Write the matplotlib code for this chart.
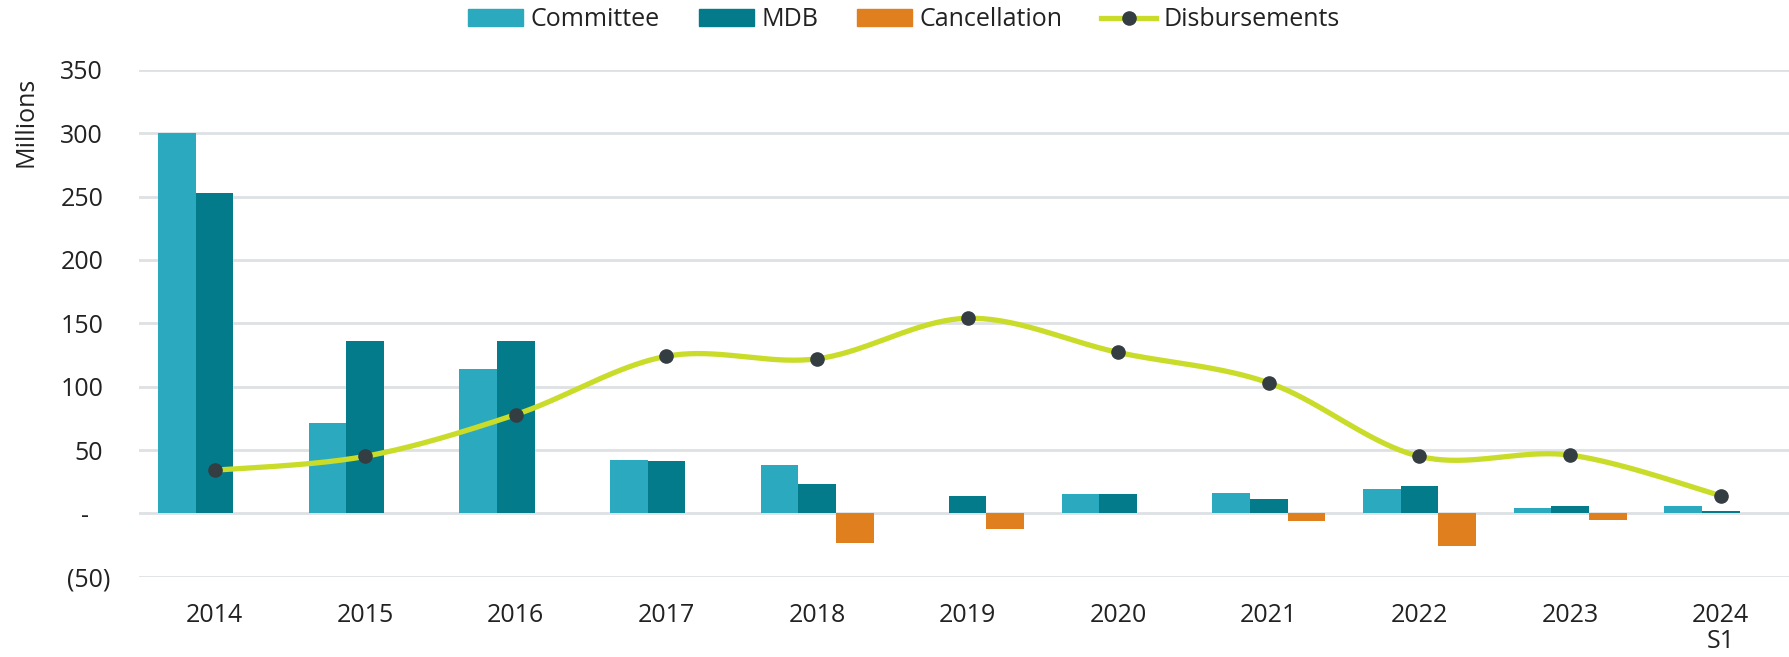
import numpy as np
import matplotlib
matplotlib.use("Agg")
import matplotlib.pyplot as plt
import matplotlib.transforms as mtransforms
from matplotlib.patches import Patch
from matplotlib.lines import Line2D

plt.rcParams['font.family'] = ['Open Sans', 'DejaVu Sans']

# data
years = ["2014", "2015", "2016", "2017", "2018", "2019", "2020", "2021", "2022", "2023", "2024\nS1"]
committee = [300, 71, 114, 42, 38, 0, 15, 16, 19, 4, 6]
mdb = [253, 136, 136, 41, 23, 14, 15, 11, 22, 6, 2]
cancellation = [0, 0, 0, 0, -23, -12, 0, -6, -26, -5, 0]
disbursements = [34, 45, 78, 124, 122, 154, 127, 103, 45, 46, 14]

ytick_vals = [-50, 0, 50, 100, 150, 200, 250, 300, 350]
ytick_labels = ["(50)", "-", "50", "100", "150", "200", "250", "300", "350"]

c_comm = "#2BA9BF"
c_mdb = "#037B8B"
c_canc = "#E07F1D"
c_line = "#C9DC2A"
c_mark = "#343E42"
c_grid = "#DDE1E4"
c_text = "#222222"


def smooth(xs, ys, n=40):
    # excel style smoothed line: bezier segments with catmull-rom handles
    xs = np.asarray(xs, float)
    ys = np.asarray(ys, float)
    px, py = [], []
    for i in range(len(xs) - 1):
        x0, y0 = xs[i], ys[i]
        x3, y3 = xs[i + 1], ys[i + 1]
        xa, ya = (xs[i - 1], ys[i - 1]) if i > 0 else (x0, y0)
        xb, yb = (xs[i + 2], ys[i + 2]) if i + 2 < len(xs) else (x3, y3)
        x1, y1 = x0 + (x3 - xa) / 6, y0 + (y3 - ya) / 6
        x2, y2 = x3 - (xb - x0) / 6, y3 - (yb - y0) / 6
        t = np.linspace(0, 1, n)
        px.append((1-t)**3*x0 + 3*(1-t)**2*t*x1 + 3*(1-t)*t**2*x2 + t**3*x3)
        py.append((1-t)**3*y0 + 3*(1-t)**2*t*y1 + 3*(1-t)*t**2*y2 + t**3*y3)
    return np.concatenate(px), np.concatenate(py)


fig = plt.figure(figsize=(17.9, 6.57), dpi=100)
ax = fig.add_axes([0.0778, 0.1222, 0.9222, 0.7713])

x = np.arange(len(years))
w = 0.25
ax.bar(x - w, committee, w, color=c_comm, zorder=2)
ax.bar(x, mdb, w, color=c_mdb, zorder=2)
ax.bar(x + w, cancellation, w, color=c_canc, zorder=2)

sx, sy = smooth(x, disbursements)
ax.plot(sx, sy, color=c_line, lw=3.8, zorder=3, solid_capstyle='butt')
ax.plot(x, disbursements, 'o', color=c_mark, ms=9.5, zorder=4)

ax.set_xlim(-0.5, 10.46)
ax.set_ylim(-50, 350)
ax.set_yticks(ytick_vals)
ax.set_yticklabels(ytick_labels)
ax.set_xticks(x)
ax.set_xticklabels(years, linespacing=1.05)
ax.tick_params(axis='y', length=0, pad=26, labelsize=18, colors=c_text)
ax.tick_params(axis='x', length=0, pad=19, labelsize=18, colors=c_text)
for s in ax.spines.values():
    s.set_visible(False)
ax.yaxis.grid(True, color=c_grid, lw=2)
ax.set_axisbelow(True)

# accounting style alignment of "-" and "(50)"
for lab in ax.get_yticklabels():
    if lab.get_text() == "-":
        off = mtransforms.ScaledTranslation(-14 / 100, 0, fig.dpi_scale_trans)
        lab.set_transform(lab.get_transform() + off)
    elif lab.get_text() == "(50)":
        off = mtransforms.ScaledTranslation(7 / 100, 0, fig.dpi_scale_trans)
        lab.set_transform(lab.get_transform() + off)

fig.text(26 / 1790, 1 - 122 / 657, "Millions", rotation=90, fontsize=18,
         ha='center', va='center', color=c_text)

handles = [
    Patch(color=c_comm, label="Committee"),
    Patch(color=c_mdb, label="MDB"),
    Patch(color=c_canc, label="Cancellation"),
    Line2D([], [], color=c_line, lw=3.8, marker='o', ms=9.5,
           markerfacecolor=c_mark, markeredgecolor=c_mark, label="Disbursements"),
]
fig.legend(handles=handles, loc='center', bbox_to_anchor=(0.505, 0.970), ncol=4,
           frameon=False, fontsize=18, handlelength=2.2, handleheight=0.65,
           handletextpad=0.3, columnspacing=1.55, labelcolor=c_text)

fig.savefig("out.png", dpi=100)
